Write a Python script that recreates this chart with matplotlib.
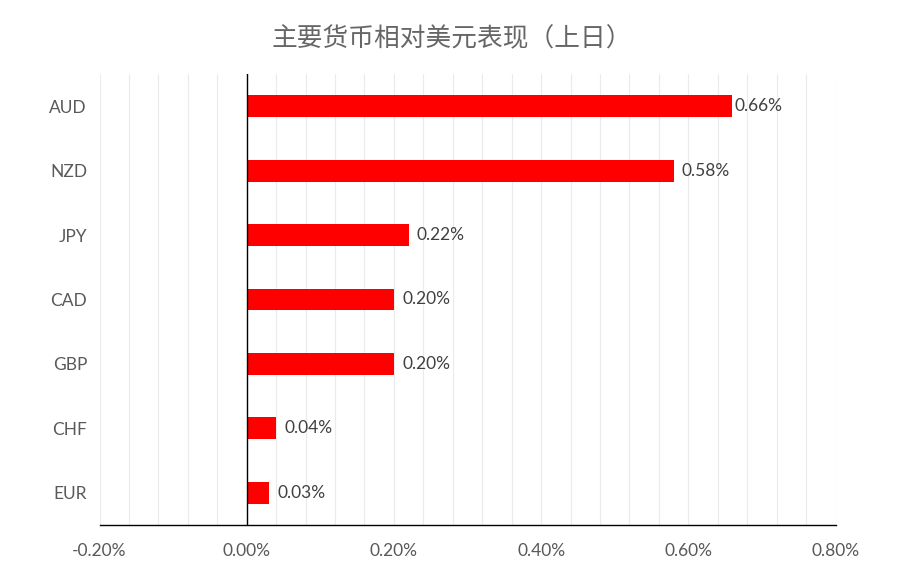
import numpy as np
import matplotlib.pyplot as plt
from matplotlib.ticker import MultipleLocator, FuncFormatter

plt.rcParams['font.family'] = ['Lato', 'Noto Sans CJK SC', 'DejaVu Sans']

currencies = ['AUD', 'NZD', 'JPY', 'CAD', 'GBP', 'CHF', 'EUR']
changes = [0.66, 0.58, 0.22, 0.20, 0.20, 0.04, 0.03]
label_offsets = [1.5, 6, 6, 6, 6, 6, 6]

grey = '#595959'

fig = plt.figure(figsize=(9.19, 5.83), dpi=100)
ax = fig.add_axes([99.5 / 919, 1 - 525 / 583, 736 / 919, 451 / 583])

y = np.arange(len(currencies))
ax.barh(y, changes, height=0.34, color='#ff0000', zorder=3)

for yi, v, off in zip(y, changes, label_offsets):
    ax.annotate(f'{v:.2f}%', (v, yi), xytext=(off, 0), textcoords='offset points',
                va='center', ha='left', fontsize=12.5, color='#404040')

ax.set_xlim(-0.20, 0.80)
ax.set_ylim(len(currencies) - 0.5, -0.5)
ax.xaxis.set_major_locator(MultipleLocator(0.2))
ax.xaxis.set_minor_locator(MultipleLocator(0.04))
ax.xaxis.set_major_formatter(FuncFormatter(lambda v, p: f'{v:.2f}%'))
ax.grid(axis='x', which='both', color='#ebebeb', linewidth=0.8, zorder=0)
ax.axvline(0, color='black', linewidth=1, zorder=4)

ax.set_yticks(y)
ax.set_yticklabels(currencies)
ax.tick_params(axis='both', length=0, labelsize=12.5, labelcolor=grey)
ax.tick_params(axis='x', which='minor', length=0)
ax.tick_params(axis='x', pad=13)
ax.tick_params(axis='y', pad=9)

for s in ['top', 'right', 'left']:
    ax.spines[s].set_visible(False)
ax.spines['bottom'].set_color('black')
ax.spines['bottom'].set_linewidth(1)

fig.text(452 / 919, 1 - 39 / 583, '主要货币相对美元表现（上日）', ha='center', va='center',
         fontsize=18.5, color='#666666', family=['Noto Sans CJK SC', 'DejaVu Sans'])

fig.savefig('out.png', dpi=100)
